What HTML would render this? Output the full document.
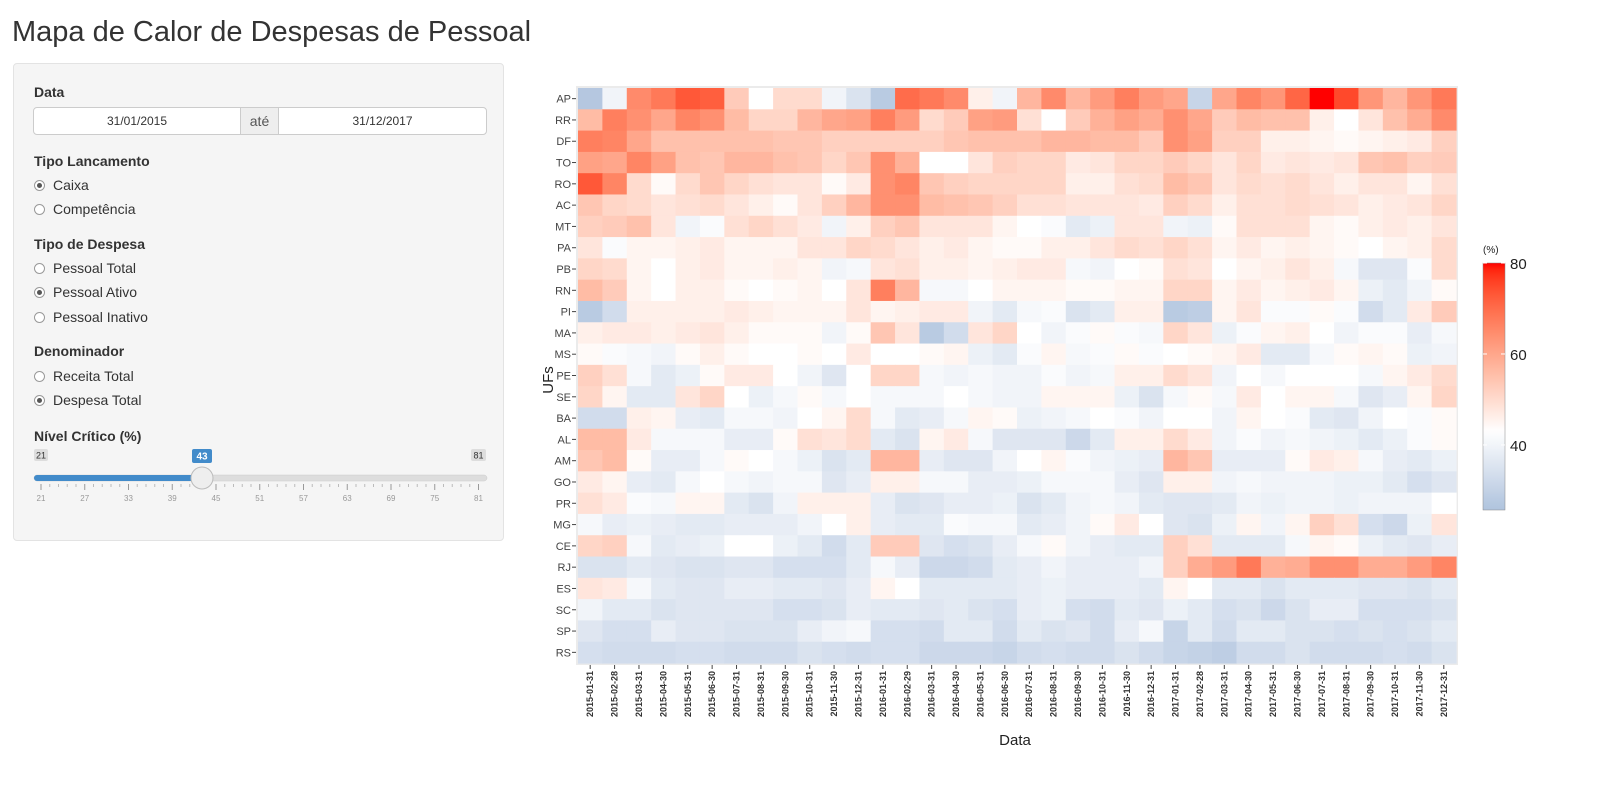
<!DOCTYPE html>
<html><head><meta charset="utf-8">
<style>
body{margin:0;background:#fff;font-family:"Liberation Sans",sans-serif;color:#333;width:1599px;height:798px;overflow:hidden;position:relative}
h1{position:absolute;left:12px;top:16px;margin:0;font-weight:normal;font-size:29px;color:#333}
.side{position:absolute;left:13px;top:63px;width:491px;height:478px;background:#f5f5f5;border:1px solid #e3e3e3;border-radius:4px;box-sizing:border-box}
.lbl{position:absolute;left:20px;font-weight:bold;font-size:14px}
.radio{position:absolute;left:20px;font-size:14px;display:flex;align-items:center}
.radio i{display:inline-block;width:11px;height:11px;border:1px solid #999;border-radius:50%;background:#fff;margin-right:8px;position:relative;box-sizing:border-box}
.radio i.on::after{content:"";position:absolute;left:2px;top:2px;width:5px;height:5px;border-radius:50%;background:#555}
.inp{position:absolute;top:43px;height:28px;border:1px solid #ccc;background:#fff;box-sizing:border-box;font-size:12px;text-align:center;line-height:26px}
</style></head><body>
<h1>Mapa de Calor de Despesas de Pessoal</h1>
<div class="side">
 <div class="lbl" style="top:20px">Data</div>
 <div class="inp" style="left:19px;width:208px;border-radius:4px 0 0 4px">31/01/2015</div>
 <div class="inp" style="left:226px;width:39px;background:#eee;font-size:14px;color:#555">até</div>
 <div class="inp" style="left:264px;width:209px;border-radius:0 4px 4px 0">31/12/2017</div>
 <div class="lbl" style="top:89px">Tipo Lancamento</div>
 <div class="radio" style="top:113px"><i class="on"></i>Caixa</div>
 <div class="radio" style="top:137px"><i></i>Competência</div>
 <div class="lbl" style="top:172px">Tipo de Despesa</div>
 <div class="radio" style="top:196px"><i></i>Pessoal Total</div>
 <div class="radio" style="top:220px"><i class="on"></i>Pessoal Ativo</div>
 <div class="radio" style="top:245px"><i></i>Pessoal Inativo</div>
 <div class="lbl" style="top:279px">Denominador</div>
 <div class="radio" style="top:304px"><i></i>Receita Total</div>
 <div class="radio" style="top:328px"><i class="on"></i>Despesa Total</div>
 <div class="lbl" style="top:364px">Nível Crítico (%)</div>
 <svg style="position:absolute;left:0;top:380px" width="491" height="70">
  <rect x="20" y="5" width="14" height="12" rx="2" fill="#ddd"/><text x="27" y="14.5" font-size="9" text-anchor="middle" fill="#333">21</text>
  <rect x="457" y="5" width="15" height="12" rx="2" fill="#ddd"/><text x="464.5" y="14.5" font-size="9" text-anchor="middle" fill="#333">81</text>
  <rect x="178" y="5" width="20" height="14" rx="2" fill="#428bca"/><text x="188" y="15.5" font-size="10" font-weight="bold" text-anchor="middle" fill="#fff">43</text>
  <rect x="20" y="31" width="453" height="6" rx="3" fill="#ddd" stroke="#ccc" stroke-width="0.5"/>
  <rect x="20" y="31" width="168" height="6" rx="3" fill="#428bca"/>
  <g id="sticks"></g>
  <circle cx="188" cy="34" r="11" fill="#eee" stroke="#bbb"/>
 </svg>
</div>
<svg id="chart" style="position:absolute;left:0;top:0" width="1599" height="798"></svg>
<script>
const ufs=["AP","RR","DF","TO","RO","AC","MT","PA","PB","RN","PI","MA","MS","PE","SE","BA","AL","AM","GO","PR","MG","CE","RJ","ES","SC","SP","RS"];
const dates=["2015-01-31","2015-02-28","2015-03-31","2015-04-30","2015-05-31","2015-06-30","2015-07-31","2015-08-31","2015-09-30","2015-10-31","2015-11-30","2015-12-31","2016-01-31","2016-02-29","2016-03-31","2016-04-30","2016-05-31","2016-06-30","2016-07-31","2016-08-31","2016-09-30","2016-10-31","2016-11-30","2016-12-31","2017-01-31","2017-02-28","2017-03-31","2017-04-30","2017-05-31","2017-06-30","2017-07-31","2017-08-31","2017-09-30","2017-10-31","2017-11-30","2017-12-31"];
const vAP=[27,40,65,68,73,72,53,43,50,50,40,35,28,70,68,65,46,40,57,65,57,62,67,62,60,31,60,66,63,71,80,75,63,57,63,68];
const vRR=[56,67,64,60,66,64,56,51,51,57,60,61,67,62,50,53,61,62,49,43,53,58,61,59,64,60,53,56,55,55,46,43,48,55,59,65];
const vDF=[67,66,60,55,55,55,55,55,54,54,52,52,52,52,52,54,55,55,55,57,57,56,56,53,64,61,52,52,46,46,45,44,45,46,47,52];
const vTO=[61,60,66,61,55,54,57,57,55,54,51,54,64,58,43,43,48,52,51,51,47,48,51,51,53,51,48,51,47,48,47,48,54,55,52,53];
const vRO=[73,66,50,44,50,54,51,49,48,48,44,47,64,66,54,52,51,51,51,51,46,46,49,50,56,54,48,50,49,50,48,46,48,48,45,49];
const vAC=[54,51,50,48,49,50,48,46,44,48,52,57,64,64,56,55,54,52,49,49,48,48,48,47,52,50,46,49,49,50,49,48,46,47,48,51];
const vMT=[52,53,55,48,40,42,49,51,49,47,40,46,52,54,48,48,48,45,43,42,37,39,48,48,40,39,44,49,49,49,45,44,46,47,46,48];
const vPA=[48,42,45,45,46,47,45,45,45,48,48,51,50,48,46,47,45,44,44,46,46,48,50,49,51,49,45,47,45,46,45,44,43,45,46,50];
const vPB=[51,50,45,43,46,47,45,45,46,45,40,41,48,49,46,46,45,46,47,47,41,40,43,44,49,48,43,45,46,48,46,41,36,36,42,50];
const vRN=[56,53,45,43,46,46,44,43,44,45,43,48,67,57,41,41,43,45,45,45,44,44,45,45,51,51,45,47,45,46,47,45,39,37,40,44];
const vPI=[28,33,46,46,46,46,47,46,45,45,45,48,45,46,47,47,40,37,41,42,35,37,46,46,28,29,45,48,42,42,44,42,33,37,47,53];
const vMA=[46,47,47,46,47,48,46,44,44,44,40,44,54,48,28,33,48,51,43,40,42,44,42,41,51,48,39,42,45,46,43,40,42,42,38,41];
const vMS=[44,42,41,40,44,46,44,43,43,44,43,47,43,43,44,45,39,37,42,45,41,42,44,42,43,44,45,47,37,37,41,44,45,44,39,40];
const vPE=[52,49,41,37,39,44,47,47,43,40,36,43,51,51,41,40,41,40,40,42,40,41,46,46,50,48,40,43,41,43,43,43,41,45,47,50];
const vSE=[51,45,37,37,48,51,43,39,41,44,41,43,41,41,41,43,41,40,40,45,45,45,39,35,41,44,41,47,43,45,45,41,36,38,45,51];
const vBA=[33,33,46,45,38,37,41,41,40,43,45,50,41,37,38,41,45,44,39,40,41,43,42,40,43,43,40,45,43,42,37,36,40,43,42,44];
const vAL=[56,56,47,41,41,41,38,38,44,49,48,50,37,35,45,47,41,36,36,36,32,37,46,46,50,47,40,42,40,41,40,39,37,39,42,44];
const vAM=[54,56,44,38,38,41,44,43,41,39,35,37,57,57,38,36,36,40,43,45,42,40,39,38,57,54,38,38,38,44,47,46,41,38,37,39];
const vGO=[47,45,38,37,41,43,41,40,41,41,36,38,46,46,41,41,38,38,39,41,41,41,38,36,46,46,40,41,40,40,40,39,39,37,34,36];
const vPR=[49,47,42,41,45,45,37,35,40,46,46,46,38,35,36,38,38,39,35,37,40,41,40,37,36,36,37,40,39,40,40,39,40,40,40,43];
const vMG=[41,38,39,38,37,37,38,38,38,40,43,46,38,37,37,42,41,41,37,38,40,44,47,43,36,35,39,45,40,45,52,49,34,32,39,48];
const vCE=[51,52,41,37,38,39,43,43,39,37,33,37,53,53,36,34,35,38,41,44,40,38,37,37,52,49,37,37,37,41,45,44,39,37,36,38];
const vRJ=[35,35,37,36,35,35,36,36,34,34,34,37,41,38,32,32,33,37,38,40,38,38,38,40,52,59,62,68,58,59,64,64,59,59,62,66];
const vES=[48,47,41,37,36,36,38,38,37,37,36,38,45,43,37,37,37,37,38,39,38,38,38,37,45,43,37,37,35,37,37,37,36,36,35,37];
const vSC=[40,37,37,35,36,36,36,36,34,34,35,38,37,37,36,37,35,34,38,39,34,33,37,36,39,37,34,35,32,35,38,38,34,34,34,35];
const vSP=[36,34,34,38,36,36,35,35,35,38,40,41,34,34,33,37,37,33,37,35,36,33,38,41,31,37,33,37,37,35,35,34,35,34,35,37];
const vRS=[34,33,33,33,34,34,33,33,33,35,34,33,34,34,32,32,32,31,33,34,33,33,35,33,31,30,29,33,33,35,33,33,33,34,33,35];
const values=[vAP,vRR,vDF,vTO,vRO,vAC,vMT,vPA,vPB,vRN,vPI,vMA,vMS,vPE,vSE,vBA,vAL,vAM,vGO,vPR,vMG,vCE,vRJ,vES,vSC,vSP,vRS];
const legendTicks=[40,60,80];
const sliderTicks=[21,27,33,39,45,51,57,63,69,75,81];

// color scale (Lab interpolation, gradient2 style)
const LOW=26,MID=43,HIGH=80;
function s2l(c){c/=255;return c<=0.04045?c/12.92:Math.pow((c+0.055)/1.055,2.4);}
function l2s(c){c=c<=0.0031308?12.92*c:1.055*Math.pow(c,1/2.4)-0.055;return Math.max(0,Math.min(255,Math.round(c*255)));}
function toLab(h){const r=s2l(parseInt(h.substr(1,2),16)),g=s2l(parseInt(h.substr(3,2),16)),b=s2l(parseInt(h.substr(5,2),16));
 let x=(0.4124*r+0.3576*g+0.1805*b)/0.95047,y=0.2126*r+0.7152*g+0.0722*b,z=(0.0193*r+0.1192*g+0.9505*b)/1.08883;
 const f=t=>t>0.008856?Math.cbrt(t):7.787*t+16/116;x=f(x);y=f(y);z=f(z);return[116*y-16,500*(x-y),200*(y-z)];}
function fromLab(L){let y=(L[0]+16)/116,x=L[1]/500+y,z=y-L[2]/200;const fi=t=>t*t*t>0.008856?t*t*t:(t-16/116)/7.787;
 x=fi(x)*0.95047;y=fi(y);z=fi(z)*1.08883;const r=3.2406*x-1.5372*y-0.4986*z,g=-0.9689*x+1.8758*y+0.0415*z,b=0.0557*x-0.2040*y+1.0570*z;
 return "rgb("+l2s(r)+","+l2s(g)+","+l2s(b)+")";}
const cLow=toLab("#B0C4DE"),cMid=toLab("#FFFFFF"),cHigh=toLab("#FF0000");
function color(v){v=Math.max(LOW,Math.min(HIGH,v));let a,b,t;if(v<MID){a=cLow;b=cMid;t=(v-LOW)/(MID-LOW);}else{a=cMid;b=cHigh;t=(v-MID)/(HIGH-MID);}
 return fromLab([a[0]+(b[0]-a[0])*t,a[1]+(b[1]-a[1])*t,a[2]+(b[2]-a[2])*t]);}

const NS="http://www.w3.org/2000/svg";const svg=document.getElementById('chart');
function mk(tag,at,parent){const e=document.createElementNS(NS,tag);for(const k in at)e.setAttribute(k,at[k]);(parent||svg).appendChild(e);return e;}
const X0=578,X1=1456,Y0=88,Y1=663;
const cw=(X1-X0)/dates.length,rh=(Y1-Y0)/ufs.length;
const xPos=i=>X0+i*cw, yPos=j=>Y0+j*rh;
const bg=mk('rect',{x:X0-2,y:Y0-2,width:X1-X0+4,height:Y1-Y0+4,fill:'#ebebeb'});


for(let j=0;j<ufs.length;j++){for(let i=0;i<dates.length;i++){
 const r=mk('rect',{x:xPos(i).toFixed(2),y:yPos(j).toFixed(2),width:(cw+0.6).toFixed(2),height:(rh+0.6).toFixed(2),fill:color(values[j][i])});
 
 
}}
for(let j=0;j<ufs.length;j++){const y=yPos(j)+rh/2;
 mk('line',{x1:X0-6,x2:X0-2,y1:y,y2:y,stroke:'#444','stroke-width':1});
 const t=mk('text',{x:X0-7,y:y+4,'font-size':11,'text-anchor':'end',fill:'#444'});t.textContent=ufs[j];
 
 
}
for(let i=0;i<dates.length;i++){const x=xPos(i)+cw/2;
 mk('line',{x1:x,x2:x,y1:Y1+2,y2:Y1+6,stroke:'#444','stroke-width':1});
 const t=mk('text',{transform:'translate('+(x+3)+','+(Y1+8)+') rotate(-90)','font-size':9,'text-anchor':'end',fill:'#333','font-weight':'bold'});t.textContent=dates[i];
 
 
}
const xt=mk('text',{x:(X0+X1)/2-2,y:745,'font-size':15,'text-anchor':'middle',fill:'#222'});xt.textContent='Data';


const yt=mk('text',{transform:'translate(553,380) rotate(-90)','font-size':15,'text-anchor':'middle',fill:'#222'});yt.textContent='UFs';


// colorbar
const CB0=263,CB1=510,cbTop=80,cbBot=25.7;
const cbY=v=>CB0+(cbTop-v)/(cbTop-cbBot)*(CB1-CB0);
const g=mk('defs',{});const lg=mk('linearGradient',{id:'cbg',x1:0,y1:0,x2:0,y2:1},g);
for(let k=0;k<=40;k++){const v=cbTop-(cbTop-cbBot)*k/40;mk('stop',{offset:(k/40),'stop-color':color(v)},lg);}
const cb=mk('rect',{x:1483,y:CB0,width:22,height:CB1-CB0,fill:'url(#cbg)',stroke:'#888','stroke-width':0.5});


const ct=mk('text',{x:1483,y:253,'font-size':10,fill:'#222'});ct.textContent='(%)';


legendTicks.forEach(v=>{const y=cbY(v);
 mk('line',{x1:1483,x2:1487,y1:y,y2:y,stroke:'#fff'});mk('line',{x1:1501,x2:1505,y1:y,y2:y,stroke:'#fff'});
 const t=mk('text',{x:1510,y:y+6,'font-size':15,fill:'#222'});t.textContent=v;
 
 
});
// slider ticks
const st=document.getElementById('sticks');
sliderTicks.forEach((v,k)=>{const x=27+(v-21)/60*(464.5-27);
 const l=document.createElementNS(NS,'line');l.setAttribute('x1',x);l.setAttribute('x2',x);l.setAttribute('y1',40);l.setAttribute('y2',46);l.setAttribute('stroke','#999');st.appendChild(l);
 if(k<sliderTicks.length-1)for(let m=1;m<5;m++){const xm=x+m*(437.5/10)/5;const s=document.createElementNS(NS,'line');s.setAttribute('x1',xm);s.setAttribute('x2',xm);s.setAttribute('y1',40);s.setAttribute('y2',43);s.setAttribute('stroke','#bbb');st.appendChild(s);}
 const t=document.createElementNS(NS,'text');t.setAttribute('x',x);t.setAttribute('y',57);t.setAttribute('font-size',8);t.setAttribute('text-anchor','middle');t.setAttribute('fill','#999');t.textContent=v;
 
 
 st.appendChild(t);
});
</script>
</body></html>
